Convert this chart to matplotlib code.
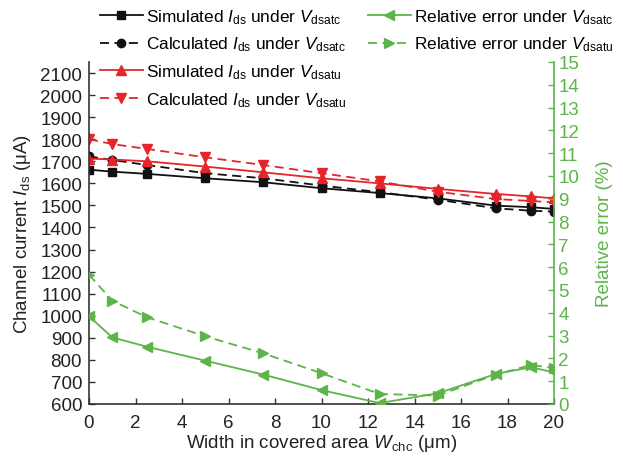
import matplotlib
matplotlib.use("Agg")
import matplotlib.pyplot as plt

plt.rcParams['font.family'] = ['Liberation Sans', 'DejaVu Sans']
plt.rcParams['mathtext.fontset'] = 'custom'
plt.rcParams['mathtext.rm'] = 'Liberation Sans'
plt.rcParams['mathtext.it'] = 'Liberation Sans:italic'

# ---- data ----
width = [0, 1, 2.5, 5, 7.5, 10, 12.5, 15, 17.5, 19, 20]
sim_c = [1662, 1653, 1643, 1623, 1605, 1578, 1556, 1532, 1499, 1492, 1484]
calc_c = [1722, 1706, 1683, 1646, 1623, 1590, 1560, 1526, 1487, 1476, 1472]
sim_u = [1712, 1708, 1700, 1676, 1650, 1623, 1600, 1575, 1552, 1541, 1532]
calc_u = [1800, 1778, 1756, 1718, 1683, 1646, 1609, 1562, 1529, 1520, 1514]
err_c = [3.85, 2.92, 2.51, 1.90, 1.29, 0.61, 0.04, 0.47, 1.32, 1.61, 1.39]
err_u = [5.67, 4.53, 3.80, 2.97, 2.22, 1.35, 0.44, 0.37, 1.29, 1.71, 1.58]

left_ticks = list(range(600, 2101, 100))
right_ticks = list(range(0, 16))
x_ticks = list(range(0, 21, 2))

labels = [r"Simulated $I_{\rm ds}$ under $V_{\rm dsatc}$",
          r"Calculated $I_{\rm ds}$ under $V_{\rm dsatc}$",
          r"Simulated $I_{\rm ds}$ under $V_{\rm dsatu}$",
          r"Calculated $I_{\rm ds}$ under $V_{\rm dsatu}$",
          r"Relative error under $V_{\rm dsatc}$",
          r"Relative error under $V_{\rm dsatu}$"]

BLACK = '#111111'
RED = '#E5252A'
GREEN = '#5DB449'
TFS = 13.5
LFS = 12.4

fig = plt.figure(figsize=(6.23, 4.64), dpi=100)
ax = fig.add_axes([89/623, 1-405/464, (554-89)/623, (405-63)/464])
ax2 = ax.twinx()

lw = 1.3
dash = (5, 3)
h1, = ax.plot(width, sim_c, '-', color=BLACK, lw=lw, marker='s', ms=6)
h2, = ax.plot(width, calc_c, '--', color=BLACK, lw=lw, marker='o', ms=6, dashes=dash)
h3, = ax.plot(width, sim_u, '-', color=RED, lw=lw, marker='^', ms=7.5)
h4, = ax.plot(width, calc_u, '--', color=RED, lw=lw, marker='v', ms=7.5, dashes=dash)
h5, = ax2.plot(width, err_c, '-', color=GREEN, lw=lw, marker='<', ms=7.5)
h6, = ax2.plot(width, err_u, '--', color=GREEN, lw=lw, marker='>', ms=7.5, dashes=dash)

ax.set_xlim(0, 20)
ax.set_ylim(600, 2150)
ax2.set_ylim(0, 15)
ax.set_xticks(x_ticks)
ax.set_yticks(left_ticks)
ax2.set_yticks(right_ticks)

for a in (ax, ax2):
    a.spines['top'].set_visible(False)
ax.spines['right'].set_visible(False)
ax2.spines['left'].set_visible(False)
ax2.spines['bottom'].set_visible(False)
ax2.spines['right'].set_color(GREEN)
ax.spines['left'].set_color('#333333')
ax.spines['bottom'].set_color('#333333')
for s in ('left', 'bottom'):
    ax.spines[s].set_linewidth(1.2)
ax2.spines['right'].set_linewidth(1.2)

ax.tick_params(axis='y', direction='in', length=4, width=1, labelsize=TFS,
               colors='#333333', labelcolor='#222222', pad=5)
ax.tick_params(axis='x', direction='in', length=4, width=1, labelsize=TFS,
               colors='#333333', labelcolor='#222222', pad=7)
ax2.tick_params(axis='y', direction='in', length=4, width=1, labelsize=TFS,
                colors=GREEN, labelcolor=GREEN, pad=3)

ax.set_xlabel(r"Width in covered area $W_{\rm chc}$ (μm)", fontsize=TFS, color='#222222', labelpad=1)
ax.set_ylabel(r"Channel current $I_{\rm ds}$ (μA)", fontsize=TFS, color='#222222', labelpad=5)
ax2.set_ylabel("Relative error (%)", fontsize=TFS, color=GREEN, labelpad=12)

leg1 = fig.legend([h1, h2, h3, h4], labels[:4], loc='upper left',
                  bbox_to_anchor=(93/623, 1 - 1/464), frameon=False,
                  fontsize=LFS, handlelength=2.5, handletextpad=0.2,
                  labelspacing=0.52, borderaxespad=0)
leg2 = fig.legend([h5, h6], labels[4:], loc='upper left',
                  bbox_to_anchor=(361/623, 1 - 1/464), frameon=False,
                  fontsize=LFS, handlelength=2.5, handletextpad=0.2,
                  labelspacing=0.52, borderaxespad=0)

fig.savefig('out.png', dpi=100)
